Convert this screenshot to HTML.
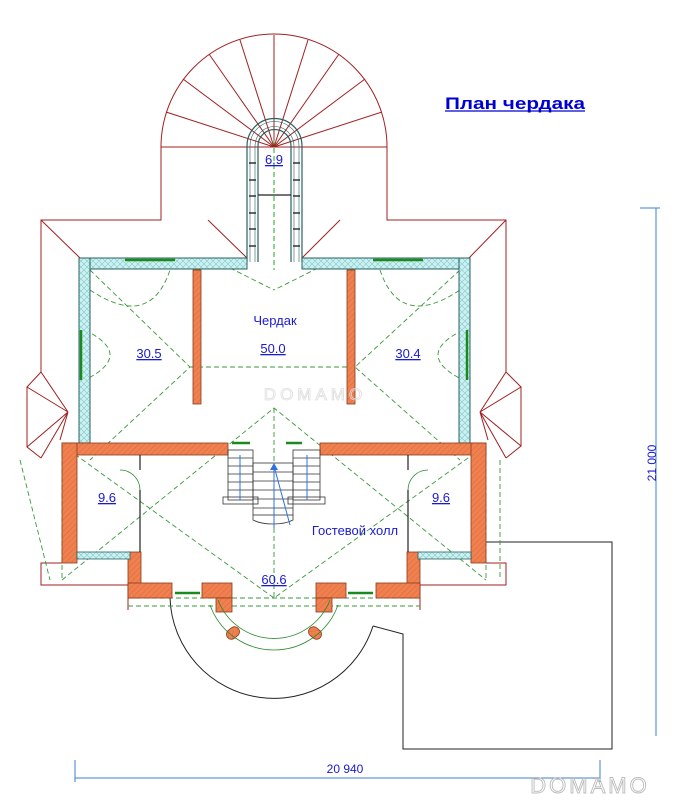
<!DOCTYPE html>
<html><head><meta charset="utf-8"><style>
body{margin:0;background:#fff}
svg{display:block}
text{font-family:"Liberation Sans",sans-serif}
</style></head><body>
<svg width="675" height="800" viewBox="0 0 675 800" xmlns="http://www.w3.org/2000/svg">
<defs>
<pattern id="br" width="4" height="4" patternUnits="userSpaceOnUse" patternTransform="rotate(45)">
<rect width="4" height="4" fill="#f08050"/><line x1="0" y1="0" x2="0" y2="4" stroke="#d86a3a" stroke-width="1"/></pattern>
<pattern id="ins" width="6" height="6" patternUnits="userSpaceOnUse">
<rect width="6" height="6" fill="#cfeff0"/><path d="M0 0L6 6M6 0L0 6" stroke="#7cc" stroke-width="0.6"/></pattern>
</defs>
<!-- title -->
<text x="445" y="109" font-size="17" font-weight="bold" fill="#0000d0" textLength="140" lengthAdjust="spacingAndGlyphs">План чердака</text>
<line x1="445" y1="111" x2="585" y2="111" stroke="#0000d0" stroke-width="1.3"/>

<!-- spiral stair outline (red) -->
<g stroke="#a02020" fill="none" stroke-width="1">
<path d="M161 147 A113 113 0 0 1 387 147 Z"/>
<line x1="274" y1="147" x2="274" y2="35"/>
<line x1="274" y1="147" x2="240" y2="40"/>
<line x1="274" y1="147" x2="308" y2="40"/>
<line x1="274" y1="147" x2="209" y2="54"/>
<line x1="274" y1="147" x2="339" y2="54"/>
<line x1="274" y1="147" x2="183" y2="79"/>
<line x1="274" y1="147" x2="365" y2="79"/>
<line x1="274" y1="147" x2="166" y2="112"/>
<line x1="274" y1="147" x2="382" y2="112"/>
<polyline points="161,147 161,220 41,220 41,372 27,387 27,447 41,458"/>
<polyline points="387,147 387,220 506,220 506,372 521,387 521,446 506,458"/>
<line x1="208" y1="220" x2="247" y2="258"/>
<line x1="340" y1="220" x2="302" y2="258"/>
<line x1="41" y1="220" x2="80" y2="258"/>
<line x1="506" y1="220" x2="469" y2="258"/>
<path d="M41 372L68 412L27 387M68 412L27 447M68 412L41 458M68 412L60 440"/>
<path d="M506 372L480 412L521 387M480 412L521 446M480 412L506 458M480 412L488 440"/>
<polyline points="62,563 41,563 41,585 128,585"/>
<polyline points="486,563 506,563 506,585 420,585"/>
<line x1="128" y1="583" x2="128" y2="610"/><line x1="420" y1="583" x2="420" y2="610"/>
</g>
<!-- big arc and right rectangle -->
<g stroke="#222" fill="none" stroke-width="1">
<path d="M170 598 A104 104 0 0 0 373 626"/>
<polyline points="373,626 403,634 403,749 612,749 612,542 486,542"/>
</g>

<!-- tower -->
<g fill="none" stroke="#2a6060" stroke-width="1.2">
<path d="M247 262 L247 146 A27.5 27.5 0 0 1 302 146 L302 262"/>
<path d="M258 262 L258 146 A16.5 16.5 0 0 1 291 146 L291 262"/>
<path d="M250 262 L250 146 A24.5 24.5 0 0 1 299 146 L299 262" stroke-width="0.6"/>
<path d="M255 262 L255 146 A19.5 19.5 0 0 1 294 146 L294 262" stroke-width="0.6"/>
<line x1="258" y1="195" x2="291" y2="195" stroke="#222"/>
</g>
<g stroke="#333" stroke-width="1.5">
<line x1="249" y1="163" x2="256" y2="163"/><line x1="293" y1="163" x2="300" y2="163"/>
<line x1="249" y1="180" x2="256" y2="180"/><line x1="293" y1="180" x2="300" y2="180"/>
<line x1="249" y1="196" x2="256" y2="196"/><line x1="293" y1="196" x2="300" y2="196"/>
<line x1="249" y1="213" x2="256" y2="213"/><line x1="293" y1="213" x2="300" y2="213"/>
<line x1="249" y1="229" x2="256" y2="229"/><line x1="293" y1="229" x2="300" y2="229"/>
<line x1="249" y1="246" x2="256" y2="246"/><line x1="293" y1="246" x2="300" y2="246"/>
</g>
<line x1="274" y1="140" x2="274" y2="270" stroke="#2a2" stroke-dasharray="5,3"/>

<!-- green dashed roof lines -->
<g stroke="#3a9a3a" fill="none" stroke-width="0.9" stroke-dasharray="5,3">
<polyline points="90,270 190,367 90,460"/>
<polyline points="460,270 355,367 460,460"/>
<line x1="190" y1="367" x2="355" y2="367"/>
<polyline points="62,580 274,408 486,580"/>
<polyline points="62,445 274,598 486,445"/>
<line x1="274" y1="408" x2="274" y2="598"/>
<line x1="62" y1="445" x2="62" y2="580"/><line x1="486" y1="445" x2="486" y2="580"/>
<line x1="128" y1="598" x2="420" y2="598"/>
<line x1="128" y1="606" x2="420" y2="606"/>
<line x1="500" y1="460" x2="500" y2="580"/>
<line x1="20" y1="460" x2="50" y2="580"/>
<line x1="230" y1="268" x2="274" y2="290"/><line x1="318" y1="268" x2="274" y2="290"/>
<path d="M90 290 Q150 330 170 270" /><path d="M85 330 Q135 355 85 380"/>
<path d="M380 270 Q400 330 460 290"/><path d="M463 330 Q413 355 463 380"/>
</g>

<!-- main attic walls (insulated) -->
<g stroke="#2a6060" stroke-width="1">
<rect x="80" y="258" width="167" height="11" fill="url(#ins)"/>
<rect x="302" y="258" width="168" height="11" fill="url(#ins)"/>
<rect x="79" y="258" width="11" height="185" fill="url(#ins)"/>
<rect x="459" y="258" width="11" height="185" fill="url(#ins)"/>
</g>
<!-- windows -->
<g stroke="#1a8a1a" stroke-width="2.5">
<line x1="125" y1="260" x2="175" y2="260"/><line x1="373" y1="260" x2="423" y2="260"/>
<line x1="81" y1="330" x2="81" y2="380"/><line x1="467" y1="330" x2="467" y2="380"/>
<line x1="66" y1="470" x2="66" y2="490"/><line x1="482" y1="470" x2="482" y2="490"/>
<line x1="175" y1="593" x2="200" y2="593"/><line x1="348" y1="593" x2="373" y2="593"/>
<line x1="232" y1="443" x2="250" y2="443"/><line x1="286" y1="443" x2="302" y2="443"/>
</g>
<!-- brick partitions -->
<g fill="url(#br)" stroke="#8a3a1a" stroke-width="0.8">
<rect x="193" y="270" width="8" height="134"/>
<rect x="347" y="270" width="8" height="134"/>
<rect x="62" y="443" width="166" height="12"/>
<rect x="320" y="443" width="166" height="12"/>
<rect x="62" y="443" width="15" height="120"/>
<rect x="471" y="443" width="15" height="120"/>
<rect x="128" y="552" width="13" height="46"/>
<rect x="407" y="552" width="13" height="46"/>
<rect x="128" y="583" width="44" height="15"/>
<rect x="202" y="583" width="30" height="15"/>
<rect x="316" y="583" width="30" height="15"/>
<rect x="376" y="583" width="44" height="15"/>
<rect x="216" y="598" width="16" height="14"/>
<rect x="316" y="598" width="16" height="14"/>
<rect x="226" y="628" width="14" height="10" rx="5" transform="rotate(-40 233 633)"/>
<rect x="308" y="628" width="14" height="10" rx="5" transform="rotate(40 315 633)"/>
</g>
<g fill="url(#ins)" stroke="#2a6060" stroke-width="0.8">
<rect x="77" y="552" width="53" height="7"/><rect x="418" y="552" width="53" height="7"/>
</g>
<!-- inner partitions -->
<g stroke="#222" stroke-width="1.2" fill="none">
<line x1="140" y1="455" x2="140" y2="470"/><line x1="140" y1="490" x2="140" y2="552"/>
<line x1="408" y1="455" x2="408" y2="470"/><line x1="408" y1="490" x2="408" y2="552"/>
</g>
<g stroke="#2a8a2a" stroke-width="0.8" fill="none">
<path d="M120 470 A20 20 0 0 1 140 490"/><path d="M428 470 A20 20 0 0 0 408 490"/>
<path d="M218 600 A60 60 0 0 0 330 600"/>
<path d="M210 605 A68 68 0 0 0 338 605"/>
</g>
<!-- stairs -->
<g stroke="#333" stroke-width="0.8" fill="none">
<rect x="228" y="450" width="25" height="50"/>
<rect x="293" y="450" width="27" height="50"/>
<rect x="253" y="463" width="40" height="52"/>
<path d="M253 515 L253 520 A25 10 0 0 0 293 520 L293 515"/>
<path d="M228 458H253M228 466H253M228 474H253M228 482H253M228 490H253M293 458H320M293 466H320M293 474H320M293 482H320M293 490H320M253 472H293M253 481H293M253 490H293M253 499H293M253 508H293"/>
<rect x="223" y="497" width="35" height="7"/><rect x="288" y="497" width="37" height="7"/>
</g>
<g stroke="#3070e0" stroke-width="1">
<line x1="240" y1="455" x2="240" y2="500"/><line x1="307" y1="455" x2="307" y2="500"/>
<line x1="274" y1="466" x2="274" y2="528"/><line x1="274" y1="466" x2="290" y2="525"/>
</g>
<path d="M270 470 L274 463 L278 470Z" fill="#3070e0"/>

<!-- labels -->
<g fill="#1a1ad0" font-size="13">
<text x="275" y="325" text-anchor="middle">Чердак</text>
<text x="355" y="535" text-anchor="middle">Гостевой холл</text>
</g>
<g fill="#1a1ad0" font-size="13" text-anchor="middle" text-decoration="underline">
<text x="274" y="164">6.9</text>
<text x="273" y="353">50.0</text>
<text x="149" y="358">30.5</text>
<text x="408" y="358">30.4</text>
<text x="107" y="502">9.6</text>
<text x="441" y="502">9.6</text>
<text x="274" y="584">60.6</text>
</g>
<text x="315" y="400" font-size="17" fill="none" stroke="#ddd" stroke-width="0.8" text-anchor="middle" letter-spacing="4">DOMAMO</text>

<!-- dimensions -->
<g stroke="#3a80d0" stroke-width="1">
<line x1="656" y1="208" x2="656" y2="736"/><line x1="640" y1="208" x2="660" y2="208"/>
<line x1="75" y1="778" x2="600" y2="778"/><line x1="75" y1="760" x2="75" y2="782"/><line x1="600" y1="760" x2="600" y2="782"/>
</g>
<text x="345" y="773" font-size="12" fill="#1a1ad0" text-anchor="middle">20 940</text>
<text transform="translate(656 463) rotate(-90)" font-size="12" fill="#1a1ad0" text-anchor="middle">21 000</text>
<text x="590" y="793" font-size="22" fill="none" stroke="#bbb" stroke-width="0.9" text-anchor="middle" letter-spacing="3">DOMAMO</text>
</svg>
</body></html>
